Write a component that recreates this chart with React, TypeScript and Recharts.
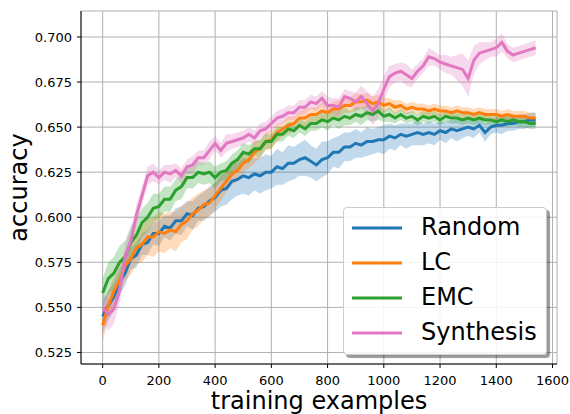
import React from "react";
import {
  ComposedChart,
  Line,
  Area,
  XAxis,
  YAxis,
  CartesianGrid,
} from "recharts";

// training examples (x positions of the samples)
const examples = [
  0, 20, 40, 60, 80, 100, 120, 140, 160, 180, 200, 220, 240, 260, 280, 300, 320, 340, 360, 380,
  400, 420, 440, 460, 480, 500, 520, 540, 560, 580, 600, 620, 640, 660, 680, 700, 720, 740, 760, 780,
  800, 820, 840, 860, 880, 900, 920, 940, 960, 980, 1000, 1020, 1040, 1060, 1080, 1100, 1120, 1140, 1160, 1180,
  1200, 1220, 1240, 1260, 1280, 1300, 1320, 1340, 1360, 1380, 1400, 1420, 1440, 1460, 1480, 1500, 1520, 1540,
];

const randomAcc = [
  0.545, 0.551, 0.556, 0.564, 0.569, 0.577, 0.579, 0.585, 0.586, 0.591, 0.591, 0.595, 0.594, 0.598, 0.598, 0.602, 0.601, 0.605, 0.606, 0.609,
  0.611, 0.615, 0.616, 0.62, 0.621, 0.623, 0.622, 0.624, 0.623, 0.625, 0.625, 0.628, 0.627, 0.63, 0.63, 0.632, 0.633, 0.631, 0.629, 0.632,
  0.633, 0.636, 0.636, 0.639, 0.639, 0.641, 0.64, 0.642, 0.642, 0.643, 0.643, 0.645, 0.644, 0.646, 0.645, 0.646, 0.647, 0.646, 0.647, 0.646,
  0.648, 0.647, 0.649, 0.648, 0.649, 0.65, 0.649, 0.651, 0.647, 0.65, 0.651, 0.651, 0.652, 0.652, 0.653, 0.653, 0.654, 0.654,
];
const randomSpread = [
  0.009, 0.008, 0.008, 0.007, 0.007,
  0.006, 0.007, 0.006, 0.007, 0.006, 0.007, 0.006, 0.007, 0.007, 0.008, 0.007, 0.008, 0.007, 0.008, 0.008,
  0.008, 0.009, 0.009, 0.01, 0.009, 0.01, 0.01, 0.009, 0.01, 0.01, 0.009, 0.01, 0.009, 0.01, 0.009, 0.009, 0.01, 0.009, 0.009, 0.01, 0.009, 0.008, 0.009, 0.008, 0.008,
  0.008, 0.007, 0.008, 0.007, 0.007, 0.008, 0.007, 0.007, 0.006, 0.007, 0.006, 0.007, 0.006, 0.006, 0.006, 0.005, 0.006, 0.005, 0.006, 0.005,
  0.005, 0.005, 0.004, 0.005, 0.004, 0.004, 0.005, 0.004, 0.004, 0.004, 0.004, 0.004, 0.004,
];

const lcAcc = [
  0.54, 0.551, 0.559, 0.565, 0.573, 0.577, 0.583, 0.585, 0.589, 0.589, 0.592, 0.591, 0.593, 0.592, 0.596, 0.598, 0.602, 0.604, 0.607, 0.608,
  0.612, 0.616, 0.62, 0.624, 0.626, 0.63, 0.632, 0.636, 0.638, 0.642, 0.643, 0.647, 0.649, 0.651, 0.652, 0.655, 0.655, 0.657, 0.657, 0.659,
  0.658, 0.66, 0.66, 0.662, 0.662, 0.664, 0.664, 0.665, 0.663, 0.664, 0.662, 0.663, 0.661, 0.662, 0.66, 0.661, 0.66, 0.66, 0.659, 0.66,
  0.659, 0.659, 0.658, 0.659, 0.658, 0.658, 0.657, 0.658, 0.657, 0.657, 0.657, 0.656, 0.657, 0.656, 0.656, 0.656, 0.655, 0.655,
];
const lcSpread = [
  0.009, 0.008, 0.008, 0.008, 0.008,
  0.009, 0.009, 0.01, 0.01, 0.011, 0.011, 0.011, 0.01, 0.011, 0.01, 0.01, 0.009, 0.009, 0.008, 0.008,
  0.007, 0.007, 0.006, 0.006, 0.006, 0.005, 0.005, 0.006, 0.005, 0.005, 0.005, 0.005, 0.004, 0.005, 0.004, 0.004, 0.005, 0.004, 0.004, 0.005, 0.004, 0.004, 0.005, 0.004, 0.004,
  0.005, 0.004, 0.004, 0.004, 0.004, 0.004, 0.003, 0.004, 0.003, 0.003, 0.003, 0.003, 0.003, 0.003, 0.003, 0.003, 0.003, 0.003, 0.003, 0.003,
  0.003, 0.003, 0.003, 0.003, 0.003, 0.003, 0.003, 0.003, 0.003, 0.003, 0.003, 0.003, 0.003,
];

const emcAcc = [
  0.558, 0.566, 0.569, 0.575, 0.578, 0.586, 0.59, 0.597, 0.6, 0.605, 0.606, 0.61, 0.61, 0.615, 0.617, 0.622, 0.622, 0.625, 0.624, 0.625,
  0.622, 0.625, 0.626, 0.63, 0.632, 0.636, 0.635, 0.638, 0.638, 0.642, 0.642, 0.646, 0.646, 0.649, 0.648, 0.651, 0.649, 0.652, 0.652, 0.654,
  0.653, 0.655, 0.654, 0.656, 0.655, 0.657, 0.656, 0.658, 0.657, 0.659, 0.656, 0.657, 0.655, 0.657, 0.655, 0.656, 0.654, 0.656, 0.655, 0.656,
  0.654, 0.656, 0.655, 0.655, 0.654, 0.655, 0.654, 0.655, 0.654, 0.654, 0.653, 0.654, 0.653, 0.654, 0.653, 0.653, 0.652, 0.652,
];
const emcSpread = [
  0.008, 0.009, 0.009, 0.009, 0.009,
  0.009, 0.009, 0.008, 0.008, 0.008, 0.007, 0.007, 0.007, 0.006, 0.007, 0.006, 0.006, 0.006, 0.006, 0.006,
  0.006, 0.005, 0.005, 0.005, 0.005, 0.005, 0.005, 0.004, 0.005, 0.004, 0.004, 0.004, 0.004, 0.004, 0.004, 0.004, 0.004, 0.004, 0.004, 0.004, 0.005, 0.004, 0.005, 0.005, 0.004,
  0.004, 0.005, 0.004, 0.004, 0.005, 0.003, 0.004, 0.003, 0.003, 0.003, 0.003, 0.003, 0.003, 0.003, 0.003, 0.003, 0.003, 0.003, 0.003, 0.003,
  0.003, 0.003, 0.003, 0.003, 0.003, 0.003, 0.003, 0.003, 0.003, 0.003, 0.003, 0.003, 0.003,
];

const synthAcc = [
  0.55, 0.546, 0.549, 0.559, 0.578, 0.587, 0.601, 0.612, 0.623, 0.625, 0.622, 0.625, 0.624, 0.626, 0.623, 0.628, 0.629, 0.633, 0.633, 0.637,
  0.641, 0.637, 0.641, 0.642, 0.643, 0.644, 0.646, 0.644, 0.648, 0.649, 0.652, 0.655, 0.656, 0.658, 0.658, 0.661, 0.661, 0.664, 0.663, 0.666,
  0.662, 0.662, 0.661, 0.667, 0.666, 0.664, 0.667, 0.663, 0.659, 0.663, 0.671, 0.678, 0.68, 0.681, 0.679, 0.677, 0.681, 0.684, 0.689, 0.688,
  0.686, 0.685, 0.684, 0.683, 0.682, 0.677, 0.687, 0.691, 0.692, 0.693, 0.694, 0.697, 0.692, 0.69, 0.691, 0.692, 0.693, 0.694,
];
const synthSpread = [
  0.008, 0.009, 0.008, 0.007, 0.007,
  0.006, 0.006, 0.005, 0.005, 0.005, 0.004, 0.004, 0.005, 0.004, 0.004, 0.004, 0.005, 0.004, 0.004, 0.005,
  0.004, 0.004, 0.005, 0.004, 0.004, 0.004, 0.004, 0.004, 0.004, 0.004, 0.004, 0.004, 0.004, 0.004, 0.004, 0.004, 0.004, 0.004, 0.004, 0.004, 0.005, 0.004, 0.005, 0.004, 0.004,
  0.005, 0.006, 0.007, 0.008, 0.008, 0.007, 0.006, 0.005, 0.005, 0.006, 0.005, 0.004, 0.004, 0.005, 0.004, 0.004, 0.005, 0.005, 0.007, 0.009,
  0.01, 0.008, 0.006, 0.005, 0.004, 0.005, 0.005, 0.004, 0.004, 0.004, 0.004, 0.004, 0.004,
];

const xTicks = [0, 200, 400, 600, 800, 1000, 1200, 1400, 1600];
const yTicks = [0.525, 0.55, 0.575, 0.6, 0.625, 0.65, 0.675, 0.7];

const series = [
  { key: "random", name: "Random", color: "#1f77b4", acc: randomAcc, spread: randomSpread },
  { key: "lc", name: "LC", color: "#ff7f0e", acc: lcAcc, spread: lcSpread },
  { key: "emc", name: "EMC", color: "#2ca02c", acc: emcAcc, spread: emcSpread },
  { key: "synth", name: "Synthesis", color: "#e377c2", acc: synthAcc, spread: synthSpread },
];

const data = examples.map((x, i) => {
  const row: Record<string, any> = { x };
  series.forEach((s) => {
    row[s.key] = s.acc[i];
    row[s.key + "Band"] = [s.acc[i] - s.spread[i], s.acc[i] + s.spread[i]];
  });
  return row;
});

const FONT = "DejaVu Sans, sans-serif";

function LegendBox() {
  return (
    <div
      style={{
        position: "absolute",
        left: 343,
        top: 207,
        width: 202,
        height: 144,
        border: "1px solid #cccccc",
        borderRadius: 4,
        background: "rgba(255,255,255,0.85)",
        boxShadow: "3px 3px 1px rgba(0,0,0,0.4)",
        paddingTop: 2,
        boxSizing: "content-box",
        fontFamily: FONT,
      }}
    >
      {series.map((s) => (
        <div key={s.key} style={{ height: 35, display: "flex", alignItems: "center" }}>
          <svg width={50} height={6} style={{ marginLeft: 8 }}>
            <line x1={0} y1={3} x2={50} y2={3} stroke={s.color} strokeWidth={3} />
          </svg>
          <span style={{ marginLeft: 19, fontSize: 24, color: "#000", lineHeight: "35px" }}>{s.name}</span>
        </div>
      ))}
    </div>
  );
}

export default function App() {
  return (
    <div style={{ position: "absolute", left: 0, top: 0, width: 570, height: 414, background: "#fff" }}>
      <ComposedChart
        width={570}
        height={414}
        data={data}
        margin={{ top: 11, right: 13, bottom: 0, left: 0 }}
      >
        <CartesianGrid stroke="#b0b0b0" strokeWidth={1} />
        <XAxis
          dataKey="x"
          type="number"
          domain={[-77, 1616]}
          ticks={xTicks}
          allowDataOverflow
          height={50}
          stroke="#000"
          tickSize={4}
          tickMargin={8}
          tick={{ fill: "#000", fontSize: 13, fontFamily: FONT }}
          label={{
            content: (props: any) => {
              const vb = props.viewBox;
              return (
                <text x={vb.x + vb.width / 2} y={vb.y + 45} textAnchor="middle" fontSize={24} fontFamily={FONT} fill="#000">
                  training examples
                </text>
              );
            },
          }}
        />
        <XAxis xAxisId="top" orientation="top" dataKey="x" type="number" domain={[-77, 1616]} height={0} tick={false} tickLine={false} stroke="#000" />
        <YAxis
          type="number"
          domain={[0.5186, 0.7144]}
          ticks={yTicks}
          allowDataOverflow
          width={81}
          stroke="#000"
          tickSize={4}
          tickMargin={5}
          tickFormatter={(v: number) => v.toFixed(3)}
          tick={{ fill: "#000", fontSize: 13, fontFamily: FONT }}
          label={{
            content: (props: any) => {
              const vb = props.viewBox;
              const cy = vb.y + vb.height / 2;
              return (
                <text x={27} y={cy} transform={`rotate(-90, 27, ${cy})`} textAnchor="middle" fontSize={24} fontFamily={FONT} fill="#000">
                  accuracy
                </text>
              );
            },
          }}
        />
        <YAxis yAxisId="right" orientation="right" domain={[0.5186, 0.7144]} width={0} tick={false} tickLine={false} stroke="#000" />
        {series.map((s) => (
          <Area
            key={s.key + "Band"}
            dataKey={s.key + "Band"}
            type="linear"
            stroke="none"
            fill={s.color}
            fillOpacity={0.28}
            isAnimationActive={false}
            dot={false}
            activeDot={false}
          />
        ))}
        {series.map((s) => (
          <Line
            key={s.key}
            dataKey={s.key}
            name={s.name}
            type="linear"
            stroke={s.color}
            strokeWidth={3}
            dot={false}
            activeDot={false}
            isAnimationActive={false}
          />
        ))}
      </ComposedChart>
      <LegendBox />
    </div>
  );
}
